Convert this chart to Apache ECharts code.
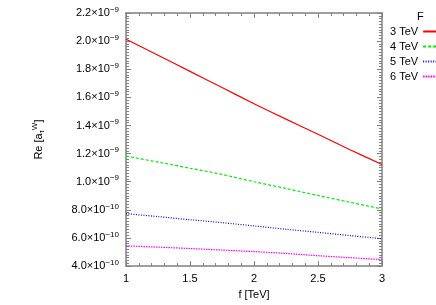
<!DOCTYPE html>
<html>
<head>
<meta charset="utf-8">
<script src="https://cdn.jsdelivr.net/npm/echarts@6/dist/echarts.min.js"></script>
<style>html,body{margin:0;padding:0;background:#fff}#c{width:436px;height:305px}</style>
</head>
<body>
<div id="c"></div>
<script>
// x values (f in TeV)
var fValues = [1.0, 1.25, 1.5, 1.75, 2.0, 2.25, 2.5, 2.75, 3.0];
// Re[a_tau^W] in units of 1e-10
var tev3 = [20.13, 19.00, 17.85, 16.70, 15.55, 14.45, 13.38, 12.28, 11.23];
var tev4 = [11.82, 11.40, 10.96, 10.52, 10.00, 9.52, 9.02, 8.54, 8.06];
var tev5 = [7.73, 7.52, 7.30, 7.09, 6.86, 6.62, 6.40, 6.17, 5.95];
var tev6 = [5.44, 5.35, 5.25, 5.14, 5.03, 4.90, 4.74, 4.60, 4.46];
var seriesNames = ['3 TeV', '4 TeV', '5 TeV', '6 TeV'];
var xTicks = [1, 1.5, 2, 2.5, 3];

function pairs(ys){ return fValues.map(function(x,i){ return [x, ys[i]]; }); }
function yFmt(v){
  v = Math.round(v*10)/10;
  if (v >= 10) return '{a|' + (v/10).toFixed(1) + '×10}{b|−9}';
  return '{a|' + v.toFixed(1) + '×10}{b|−10}';
}
var font = 'Liberation Sans, Arial, sans-serif';
var frame = '#808080';
var chart = echarts.init(document.getElementById('c'));
var commonX = {type:'value', min:1, max:3, interval:0.5};
var commonY = {type:'value', min:4, max:22, interval:2};
chart.setOption({
  animation:false,
  backgroundColor:'#fff',
  grid:{left:126, right:54, top:13, bottom:35},
  legend:{
    orient:'vertical', left:385, top:21, align:'right',
    itemWidth:24, itemHeight:8, itemGap:4,
    itemStyle:{opacity:0},
    textStyle:{fontFamily:font, fontSize:11, color:'#000'},
    data:seriesNames
  },
  graphic:[{type:'text', left:417, top:11, style:{text:'F', font:'11px '+font, fill:'#000'}}],
  xAxis:[
    Object.assign({}, commonX, {
      position:'bottom',
      name:'f [TeV]', nameLocation:'middle', nameGap:21,
      nameTextStyle:{fontFamily:font, fontSize:11, color:'#000'},
      axisLine:{lineStyle:{color:frame, width:1.5}},
      axisTick:{inside:true, length:5, lineStyle:{color:frame}},
      minorTick:{show:true, splitNumber:5, length:3, lineStyle:{color:frame}},
      axisLabel:{fontFamily:font, fontSize:11, color:'#000', margin:7,
        formatter:function(v){ return xTicks.indexOf(v)>=0 ? String(v) : ''; }},
      splitLine:{show:false}
    }),
    Object.assign({}, commonX, {
      position:'top',
      axisLine:{lineStyle:{color:frame, width:1.5}},
      axisTick:{inside:true, length:5, lineStyle:{color:frame}},
      minorTick:{show:true, splitNumber:5, length:3, lineStyle:{color:frame}},
      axisLabel:{show:false}, splitLine:{show:false}
    })
  ],
  yAxis:[
    Object.assign({}, commonY, {
      position:'left',
      name:'{n|Re [a}{s|τ}{p|W}{n|]}', nameLocation:'middle', nameGap:80, nameRotate:90,
      nameTextStyle:{fontFamily:font, fontSize:11, color:'#000',
        rich:{
          n:{fontFamily:font, fontSize:11, color:'#000'},
          s:{fontFamily:font, fontSize:8, color:'#000', verticalAlign:'bottom', padding:[6,0,0,0]},
          p:{fontFamily:font, fontSize:8, color:'#000', verticalAlign:'top', padding:[0,0,7,0]}
        }},
      axisLine:{lineStyle:{color:frame, width:1.5}},
      axisTick:{inside:true, length:5, lineStyle:{color:frame}},
      minorTick:{show:true, splitNumber:10, length:3, lineStyle:{color:frame}},
      axisLabel:{margin:7, formatter:yFmt,
        rich:{
          a:{fontFamily:font, fontSize:11, color:'#000'},
          b:{fontFamily:font, fontSize:8, color:'#000', padding:[0,0,7,0]}
        }},
      splitLine:{show:false}
    }),
    Object.assign({}, commonY, {
      position:'right',
      axisLine:{lineStyle:{color:frame, width:1.5}},
      axisTick:{inside:true, length:5, lineStyle:{color:frame}},
      minorTick:{show:true, splitNumber:10, length:3, lineStyle:{color:frame}},
      axisLabel:{show:false}, splitLine:{show:false}
    })
  ],
  series:[
    {name:seriesNames[0], type:'line', data:pairs(tev3), symbol:'none', smooth:0.3,
      color:'#ff0000', lineStyle:{color:'#ff0000', width:1.2, type:'solid'}},
    {name:seriesNames[1], type:'line', data:pairs(tev4), symbol:'none', smooth:0.3,
      color:'#00ee00', lineStyle:{color:'#00ee00', width:1.2, type:[3,2]}},
    {name:seriesNames[2], type:'line', data:pairs(tev5), symbol:'none', smooth:0.3,
      color:'#0000ff', lineStyle:{color:'#0000ff', width:1.2, type:[1,1.5]}},
    {name:seriesNames[3], type:'line', data:pairs(tev6), symbol:'none', smooth:0.3,
      color:'#ff00ff', lineStyle:{color:'#ff00ff', width:1.2, type:[1.5,1]}}
  ]
});
</script>
</body>
</html>
